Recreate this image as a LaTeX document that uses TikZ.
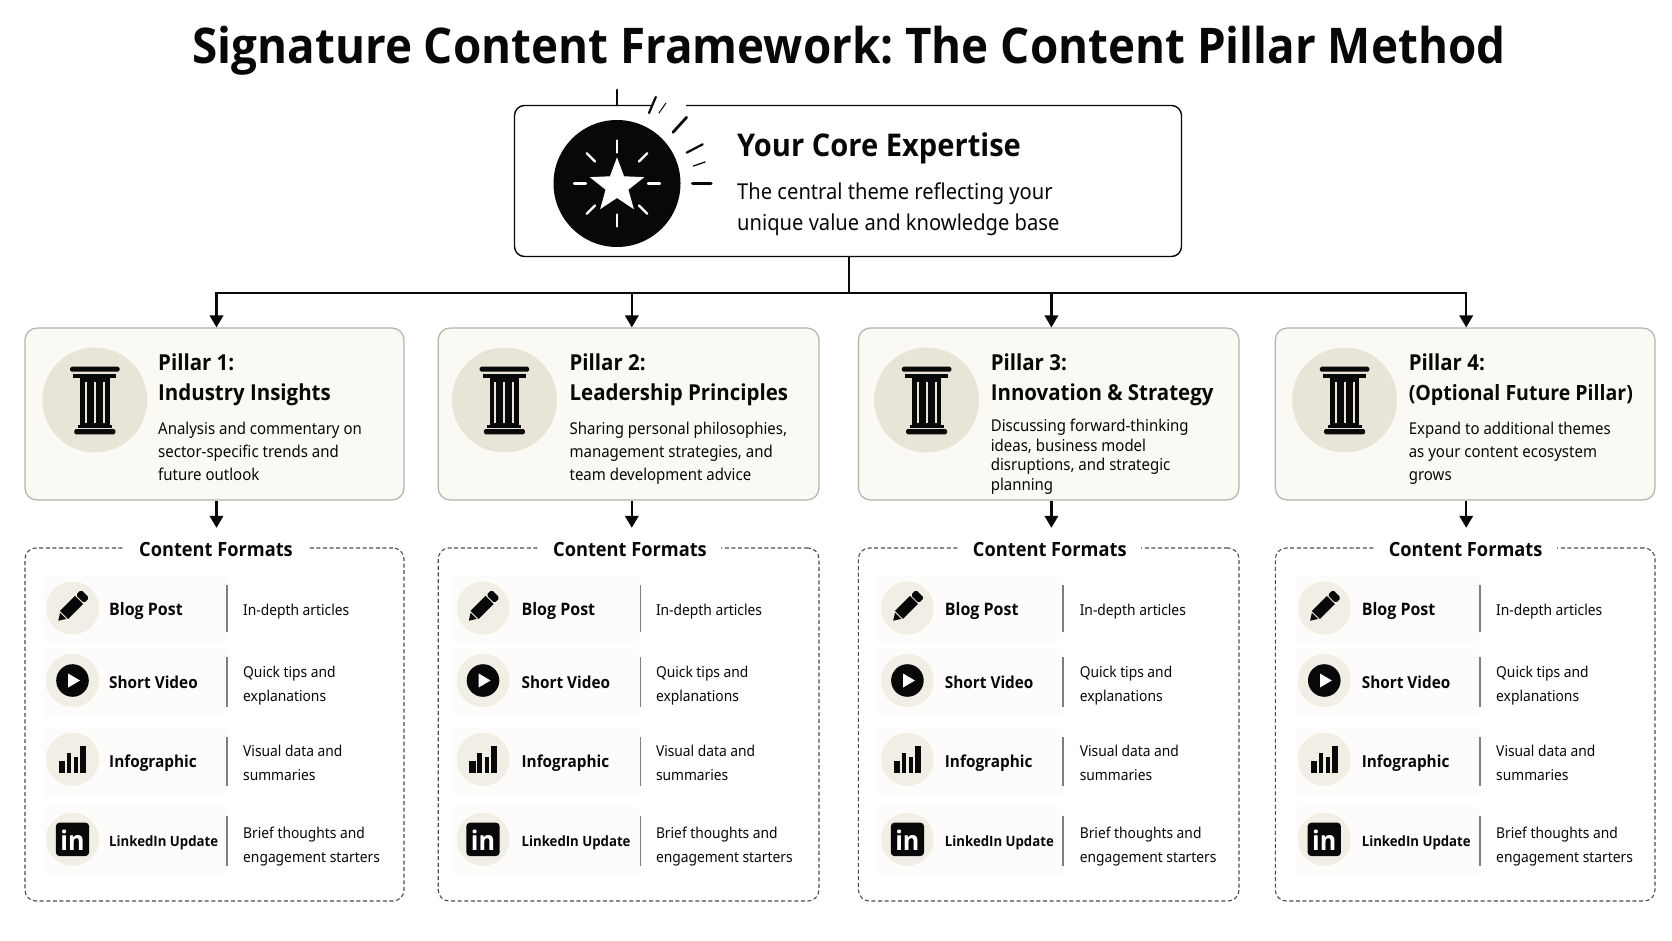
\documentclass[tikz,border=0pt]{standalone}
\usepackage{fontspec}
\setmainfont{Noto Sans}[FakeStretch=0.92]
\newfontfamily\boldfam{Open Sans}[FakeStretch=0.93]
\newcommand{\hd}{\boldfam\bfseries}
\frenchspacing
\usetikzlibrary{arrows.meta}
\definecolor{ink}{HTML}{080808}
\definecolor{cardfill}{HTML}{FBF9F4}
\definecolor{cardline}{HTML}{B4B2AA}
\definecolor{discfill}{HTML}{E9E4D8}
\definecolor{smalldisc}{HTML}{F1EEE5}
\definecolor{rowfill}{HTML}{FDFCFA}
\definecolor{divline}{HTML}{7E7E7A}
\definecolor{dashline}{HTML}{4C4C4C}
\newcommand{\firstline}{\rule{0pt}{12pt}}
\tikzset{
  txt/.style={inner sep=0pt,text=ink},
  maintitle/.style={txt,anchor=base,font=\hd\fontsize{49.2}{58}\selectfont},
  coretitle/.style={txt,anchor=base west,font=\hd\fontsize{31.3}{36}\selectfont},
  corebody/.style={txt,anchor=north west,align=left,font=\fontsize{21.9}{31}\selectfont},
  pilltitle/.style={txt,anchor=north west,align=left,font=\hd\fontsize{22}{30.4}\selectfont},
  pillbody/.style={txt,anchor=north west,align=left,font=\fontsize{16.3}{23}\selectfont},
  pillbodytight/.style={txt,anchor=north west,align=left,font=\fontsize{16.3}{19.5}\selectfont},
  headlabel/.style={txt,fill=white,minimum width=182pt,minimum height=40pt},
  fmtlabel/.style={txt,anchor=base west,font=\hd\fontsize{16.5}{20}\selectfont},
  fmtlabelbig/.style={txt,anchor=base west,font=\hd\fontsize{17.2}{20}\selectfont},
  fmtlabelsmall/.style={txt,anchor=base west,font=\hd\fontsize{14.2}{20}\selectfont},
  fmtdesc/.style={txt,anchor=north west,align=left,font=\fontsize{15}{24}\selectfont},
  corebox/.style={draw=ink,line width=1.4pt,fill=white,rounded corners=10pt,inner sep=0pt,minimum width=667pt,minimum height=151pt},
  cardbox/.style={draw=cardline,line width=1.2pt,fill=cardfill,rounded corners=12pt,inner sep=0pt},
  panelbox/.style={draw=dashline,line width=1.1pt,dash pattern=on 4pt off 2.6pt,rounded corners=11pt,inner sep=0pt},
  conn/.style={draw=ink,line width=2.2pt},
  arr/.style={conn,-{Triangle[length=12pt,width=13.5pt]}},
  divider/.style={draw=divline,line width=1.3pt},
  ray/.style={draw=ink,line cap=round},
}
% ---- icons, drawn round their centre
\newcommand{\pillaricon}{%
  \fill[ink,rounded corners=1.5pt] (-24.7,-33.3) rectangle (24.7,-28.3);
  \fill[ink] (-21.5,-26.2) rectangle (21.5,-21.7);
  \fill[ink] (-14.7,-21.7) rectangle (14.7,27);
  \fill[discfill] (-10,-17.7) rectangle (-8,23.3);
  \fill[discfill] (-1,-17.7) rectangle (1,23.3);
  \fill[discfill] (8,-17.7) rectangle (10,23.3);
  \fill[ink] (-17,25) rectangle (17,28);
  \fill[ink,rounded corners=1.5pt] (-20.5,29) rectangle (20.5,34.3);
}
\newcommand{\pencilicon}{%
  \begin{scope}[shift={(-0.8,-0.7)},rotate=45]
    \fill[ink] (-19,0) -- (-12,-4.4) -- (-12,4.4) -- cycle;
    \fill[ink] (-10.8,-5.7) -- (10.4,-5.7) -- (10.4,5.7) -- (-10.8,5.7) -- cycle;
    \fill[ink,rounded corners=1.8pt] (11.6,-5.7) rectangle (19,5.7);
  \end{scope}
}
\newcommand{\playicon}{%
  \fill[ink] (0,0) circle (16.3);
  \fill[white] (-4.3,-7) -- (7.5,0) -- (-4.3,7) -- cycle;
}
\newcommand{\charticon}{%
  \fill[ink] (-13.8,1.7) rectangle (-7.5,14);
  \fill[ink] (-5.8,-6.6) rectangle (-1.5,14);
  \fill[ink] (1.5,-2.6) rectangle (5.8,14);
  \fill[ink] (7.5,-13.3) rectangle (13.5,14);
}
% ---- one pillar card: id, left, right, disc x, text x, arrow x, two title lines
\newcommand{\pillarcard}[8]{%
  \node[cardbox,minimum width={(#3-#2)*1pt},minimum height=172pt] (card#1) at ({(#2+#3)/2},414) {};
  \fill[discfill] (#4,400) circle (52.5);
  \begin{scope}[shift={(#4,400)}]\pillaricon\end{scope}
  \coordinate (bus#1) at (#6,293);
  \draw[arr] (bus#1) -- (bus#1 |- card#1.north);
  \node[pilltitle] (ptitle#1) at (#5,353) {\rule{0pt}{17pt}#7\\#8};
}
% ---- one formats panel: id, left, right, heading x, disc x, label x, divider x, text x
\newcommand{\formatpanel}[8]{%
  \node[panelbox,minimum width={(#3-#2)*1pt},minimum height=353pt] (panel#1) at ({(#2+#3)/2},724.5) {};
  \node[headlabel] (head#1) at (#4,548) {};
  \node[txt,anchor=base,font=\hd\fontsize{19.6}{24}\selectfont] (headtext#1) at (#4,556) {Content Formats};
  \fill[rowfill,rounded corners=4pt] (#5-30,575) rectangle (#7,642);
  \fill[rowfill,rounded corners=4pt] (#5-30,648) rectangle (#7,717);
  \fill[rowfill,rounded corners=4pt] (#5-30,727) rectangle (#7,797);
  \fill[rowfill,rounded corners=4pt] (#5-30,806) rectangle (#7,875);
  \fill[smalldisc] (#5,608) circle (26.5);
  \fill[smalldisc] (#5,680.5) circle (26.5);
  \fill[smalldisc] (#5,759.3) circle (26.5);
  \fill[smalldisc] (#5,839.3) circle (26.5);
  \begin{scope}[shift={(#5,608)}]\pencilicon\end{scope}
  \begin{scope}[shift={(#5,680.5)}]\playicon\end{scope}
  \begin{scope}[shift={(#5,759.3)}]\charticon\end{scope}
  \fill[ink,rounded corners=3.5pt] (#5-16.6,822.7) rectangle (#5+16.6,856);
  \node[inner sep=0pt,anchor=base,text=white,font=\hd\fontsize{27}{30}\selectfont] (lin#1) at (#5,850.5) {in};
  \node[fmtlabelbig] (la#1) at (#6,615) {Blog Post};
  \node[fmtlabel] (lb#1) at (#6,688) {Short Video};
  \node[fmtlabel] (lc#1) at (#6,767) {Infographic};
  \node[fmtlabelsmall] (ld#1) at (#6,846.5) {LinkedIn Update};
  \draw[divider] (#7,585) -- (#7,632);
  \draw[divider] (#7,657) -- (#7,707);
  \draw[divider] (#7,736.5) -- (#7,786);
  \draw[divider] (#7,816) -- (#7,866);
  \node[fmtdesc] (da#1) at (#8,603.7) {\firstline In-depth articles};
  \node[fmtdesc] (db#1) at (#8,665.7) {\firstline Quick tips and\\explanations};
  \node[fmtdesc] (dc#1) at (#8,744) {\firstline Visual data and\\summaries};
  \node[fmtdesc] (dd#1) at (#8,826) {\firstline Brief thoughts and\\engagement starters};
  \draw[arr] (bus#1 |- card#1.south) -- (bus#1 |- head#1.north);
}
\begin{document}
\begin{tikzpicture}[x=1pt,y=-1pt]
  \useasboundingbox (0,0) rectangle (1672,941);
  \fill[white] (0,0) rectangle (1672,941);
  \node[maintitle] (title) at (849,64) {Signature Content Framework: The Content Pillar Method};
  % core
  \node[corebox] (core) at (848,181) {};
  \draw[white,line width=4pt] (652,105) -- (686,105);
  \fill[ink] (617,183.5) circle (63.5);
  \begin{scope}[shift={(617,183.5)}]
    \foreach \a in {0,45,...,315} {
      \draw[white,line width=2.2pt,line cap=round] (\a:31) -- (\a:43);
    }
  \end{scope}
  \begin{scope}[shift={(617,186)}]
    \fill[white] (-90:28.7) -- (-54:12) -- (-18:28.7) -- (18:12) -- (54:28.7) -- (90:12) -- (126:28.7) -- (162:12) -- (198:28.7) -- (234:12) -- cycle;
  \end{scope}
  \draw[ray,line width=2.8pt] (617,90) -- (617,105);
  \draw[ray,line width=2.2pt] (655.8,97) -- (649,113);
  \draw[ray,line width=1pt] (666,103) -- (659,113);
  \draw[ray,line width=2.8pt] (686.6,117.3) -- (673,132.3);
  \draw[ray,line width=2.2pt] (702.7,144.3) -- (686.6,152.7);
  \draw[ray,line width=1.3pt] (705,162) -- (693.5,166);
  \draw[ray,line width=3.2pt] (711,183.5) -- (692.5,183.5);
  \node[coretitle] (coreT) at (737,156.5) {Your Core Expertise};
  \node[corebody] (coreB) at (737,183) {\firstline The central theme reflecting your\\unique value and knowledge base};
  % bus
  \coordinate (stem) at ([xshift=1pt]core.south);
  \coordinate (busmid) at (stem |- 0,293);
  \pillarcard{1}{25}{404}{94.8}{158}{216.5}{Pillar 1:}{Industry Insights}
  \pillarcard{2}{438.2}{819}{504.4}{569.4}{631.8}{Pillar 2:}{Leadership Principles}
  \pillarcard{3}{858.4}{1239}{926.6}{990.6}{1051.4}{Pillar 3:}{Innovation \& Strategy}
  \pillarcard{4}{1275.3}{1655}{1344.6}{1408.6}{1466.2}{Pillar 4:}{{\fontsize{21}{30.4}\selectfont(Optional Future Pillar)}}
  \draw[conn] (stem) -- (busmid);
  \draw[conn,line cap=rect] (bus1) -- (bus4);
  \node[pillbody] (pbody1) at (158,422) {\firstline Analysis and commentary on\\sector-specific trends and\\future outlook};
  \node[pillbody] (pbody2) at (569.4,422) {\firstline Sharing personal philosophies,\\management strategies, and\\team development advice};
  \node[pillbodytight] (pbody3) at (990.6,419) {\firstline Discussing forward-thinking\\ideas, business model\\disruptions, and strategic\\planning};
  \node[pillbody] (pbody4) at (1408.6,422) {\firstline Expand to additional themes\\as your content ecosystem\\grows};
  \formatpanel{1}{25}{404}{216}{72.5}{109}{227}{243}
  \formatpanel{2}{438.2}{819}{630}{483}{521.4}{640.3}{655.8}
  \formatpanel{3}{858.4}{1239}{1049.8}{907.4}{944.7}{1063}{1079.6}
  \formatpanel{4}{1275.3}{1655}{1465.6}{1324.3}{1361.6}{1480}{1496}
\end{tikzpicture}
\end{document}
